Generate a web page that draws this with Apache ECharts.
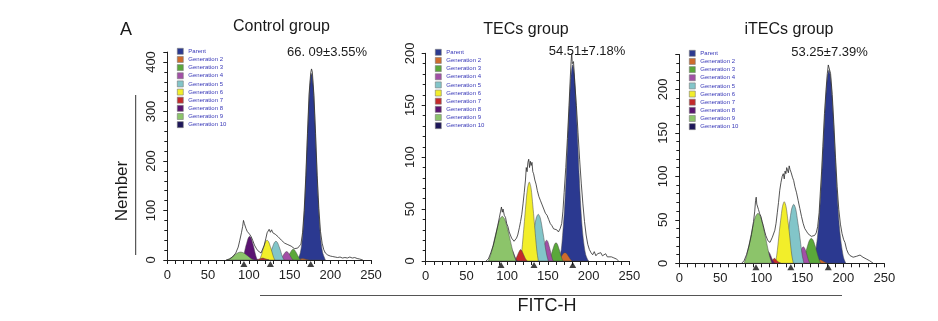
<!DOCTYPE html>
<html>
<head>
<meta charset="utf-8">
<title>CFSE proliferation</title>
<script src="https://cdn.jsdelivr.net/npm/echarts/dist/echarts.min.js"></script>
<style>
  html, body { margin: 0; padding: 0; background: #ffffff; }
  #chart { width: 938px; height: 321px; }
</style>
</head>
<body>
<div id="chart"></div>
<script>
// ---- labels ----
const panelTitles = ['Control group', 'TECs group', 'iTECs group'];
const panelRates = ['66. 09±3.55%', '54.51±7.18%', '53.25±7.39%'];
const legendNames = ['Parent', 'Generation 2', 'Generation 3', 'Generation 4', 'Generation 5',
  'Generation 6', 'Generation 7', 'Generation 8', 'Generation 9', 'Generation 10'];

// ---- Control group: fitted generation peaks [FITC-H, count] ----
const controlParent = [[160,0],[161,4],[163,13],[165,32],[167,68],[169,126],[171,203],[173,286],[175,352],[177,377],[179,352],[181,286],[183,203],[185,126],[187,68],[189,32],[191,13],[193,4],[194,0]];
const controlGen2 = [[158,0],[162,1.5],[166,3],[170,1.5],[174,0]];
const controlGen3 = [[145.6,0],[147,2.6],[148.3,6.5],[149.7,11.2],[151,15.1],[152.8,19.9],[154.6,21.6],[156.4,19.9],[158.2,15.1],[159.5,11.2],[160.9,6.5],[162.2,2.6],[163.6,0]];
const controlGen4 = [[138.4,0],[139.6,2],[140.8,5.1],[142,8.8],[143.2,11.9],[144.8,15.6],[146.4,17],[148,15.6],[149.6,11.9],[150.8,8.8],[152,5.1],[153.2,2],[154.4,0]];
const controlGen5 = [[123.3,0],[124.8,4.6],[126.3,11.4],[127.8,19.8],[129.3,26.6],[131.3,35],[133.3,38],[135.3,35],[137.3,26.6],[138.8,19.8],[140.3,11.4],[141.8,4.6],[143.3,0]];
const controlGen6 = [[113,0],[114.4,4.8],[115.9,12],[117.3,20.8],[118.7,28],[120.6,36.8],[122.5,40],[124.4,36.8],[126.3,28],[127.7,20.8],[129.2,12],[130.6,4.8],[132,0]];
const controlGen7 = [[109,0],[113,2],[117,4],[121,2],[125,0]];
const controlGen8 = [[91.5,0],[93,5.8],[94.5,14.4],[95.9,25],[97.4,33.6],[99.3,44.2],[101.1,48],[102.9,44.2],[104.8,33.6],[106.3,25],[107.7,14.4],[109.2,5.8],[110.7,0]];
const controlGen9 = [[74,0],[76.4,1.9],[78.8,4.8],[81.2,8.3],[83.6,11.2],[86.8,14.7],[90,16],[93.2,14.7],[96.4,11.2],[98.8,8.3],[101.2,4.8],[103.6,1.9],[106,0]];
const controlGen10 = [];
// measured histogram
const controlHist = [[72,0],[76,2],[80,6],[84,14],[87,26],[89,40],[91,55],[92.5,68],[93.5,80],[94.5,74],[95.5,78],[96.5,64],[98,58],[99.5,60],[101,52],[103,47],[105,39],[107,30],[109,24],[111,19],[113,16],[115,14],[117,18],[119,30],[121,44],[122.5,55],[124,58],[125,62],[126.5,56],[128,61],[129.5,55],[131,58],[132.5,52],[134,53],[136,47],[138,46],[140,40],[142,37],[144,34],[146,30],[148,31],[150,27],[152,28],[154,24],[156,23],[158,21],[160,24],[162,27],[164,32],[166,55],[168,100],[170,170],[172,255],[174,335],[176,378],[177,386],[178,380],[180,332],[182,255],[184,170],[186,104],[188,58],[190,34],[192,21],[194,14],[197,10],[200,8],[203,7],[206,6],[209,5],[212,6],[215,4],[218,5],[221,4],[224,6],[227,4],[230,5],[233,3],[236,2],[240,0]];
const controlMarkers = [94, 126.5, 176];

// ---- TECs group ----
const tecsParent = [[162.5,0],[164.5,4],[166.5,11],[168.5,29],[170.5,51],[172.5,82],[174.5,118],[176.5,153],[178.5,179],[180.5,189],[182.5,179],[184.5,153],[186.5,118],[188.5,82],[190.5,51],[192.5,29],[194.5,15],[196.5,6],[198.5,2],[200,0]];
const tecsGen2 = [[162.5,0],[165,2.5],[167.5,5.5],[169.3,7.4],[171,8],[172.7,7.4],[174.5,5.5],[177,2.5],[179.5,0]];
const tecsGen3 = [[151.4,0],[152.7,2.1],[154,5.3],[155.3,9.2],[156.6,12.3],[158.3,16.2],[160,17.6],[161.7,16.2],[163.4,12.3],[164.7,9.2],[166,5.3],[167.3,2.1],[168.6,0]];
const tecsGen4 = [[140.5,0],[141.7,2.4],[142.9,6],[144.1,10.4],[145.3,14],[146.9,18.4],[148.5,20],[150.1,18.4],[151.7,14],[152.9,10.4],[154.1,6],[155.3,2.4],[156.5,0]];
const tecsGen5 = [[125.9,0],[127.7,5.4],[129.6,13.5],[131.4,22.5],[133.3,31.5],[135.7,41.4],[138.2,45],[140.7,41.4],[143.1,31.5],[145,22.5],[146.8,13.5],[148.7,5.4],[150.5,0]];
const tecsGen6 = [[116.2,0],[117.9,9.1],[119.5,22.8],[121.2,38],[122.8,53],[125,70],[127.2,76],[129.4,70],[131.6,53],[133.3,38],[134.9,22.8],[136.6,9.1],[138.2,0]];
const tecsGen7 = [[108.6,0],[110.9,2.5],[113.2,6.5],[115.3,10],[116.6,11],[117.9,10],[120,6.5],[122.3,2.5],[124.6,0]];
const tecsGen8 = [[98.5,0],[100.5,2.5],[102.5,6.5],[104.2,9.8],[105.5,10.6],[106.8,9.8],[108.5,6.5],[110.5,2.5],[112.5,0]];
const tecsGen9 = [[77,0],[79.5,5.2],[82.1,12.9],[84.6,21.5],[87.2,30],[90.6,39.6],[94,43],[97.4,39.6],[100.8,30],[103.4,21.5],[105.9,12.9],[108.5,5.2],[111,0]];
const tecsGen10 = [];
const tecsHist = [[74,0],[77,2],[80,8],[83,15],[86,25],[88.5,34],[90.5,42],[92,48],[93,52],[94,47],[95,50],[96.5,44],[98,42],[99.5,36],[101,33],[102.5,28],[104,25],[105.5,22],[107,23],[108.5,19],[110,20],[111.5,22],[113,25],[115,32],[116.5,38],[118,45],[119.5,55],[121,66],[122.5,78],[123.5,90],[124.5,86],[125.5,95],[126.5,98],[127.5,90],[128.5,96],[129.5,92],[130.5,95],[131.5,86],[132.5,84],[134,78],[135.5,74],[137,68],[139,62],[141,58],[143,54],[145,50],[147,46],[149,44],[151,40],[153,36],[155,34],[157,31],[159,30],[161,30],[163,28],[165,31],[167,36],[168.5,48],[170,66],[172,90],[174,118],[176,150],[177.5,176],[178.5,192],[179.3,200],[180,190],[181.5,192],[183,172],[185,150],[187,124],[189,98],[191,75],[193,55],[195,38],[197,25],[199,16],[201,11],[203,8],[205,6],[207,9],[209,5],[211,7],[213,6],[215,8],[217,5],[219,6],[221,7],[223,4],[225,5],[228,4],[231,3],[234,2],[237,0]];
const tecsMarkers = [92.5, 133, 180.5];

// ---- iTECs group ----
const itecsParent = [[162,0],[164.5,6],[166.5,16],[168.5,30],[170.5,51],[172.5,80],[174.5,116],[176.5,154],[178.5,188],[180.5,213],[182.5,222],[184.5,213],[186.5,188],[188.5,154],[190.5,116],[192.5,80],[194.5,51],[196.5,30],[198.5,16],[200.5,6],[203,0]];
const itecsGen2 = [[164,0],[168,2],[172,4],[176,2],[180,0]];
const itecsGen3 = [[149.5,0],[151.2,3.4],[153,8.6],[154.7,14.4],[156.4,20.1],[158.7,26.4],[161,28.7],[163.3,26.4],[165.6,20.1],[167.3,14.4],[169,8.6],[170.8,3.4],[172.5,0]];
const itecsGen4 = [[143.2,0],[144.4,2.3],[145.6,5.7],[146.8,9.9],[148,13.3],[149.6,17.5],[151.2,19],[152.8,17.5],[154.4,13.3],[155.6,9.9],[156.8,5.7],[158,2.3],[159.2,0]];
const itecsGen5 = [[127,0],[128.9,8.1],[130.75,21.2],[132.6,35.3],[134.5,47.5],[137,62.4],[139.5,67.8],[142,62.4],[144.5,47.5],[146.4,35.3],[148.25,21.2],[150.1,8.1],[152,0]];
const itecsGen6 = [[117,0],[118.7,8.5],[120.3,21.2],[122,36.8],[123.6,49.6],[125.8,65.1],[128,70.8],[130.2,65.1],[132.4,49.6],[134,36.8],[135.7,21.2],[137.3,8.5],[139,0]];
const itecsGen7 = [[108,0],[111,1.5],[113.5,3.5],[116,5.7],[118.5,3.5],[121,1.5],[124,0]];
const itecsGen8 = [[100.5,0],[102.5,2.5],[104.5,6.5],[106.5,11],[108.5,13.4],[110.5,11],[112.5,6.5],[114.5,2.5],[116.5,0]];
const itecsGen9 = [[79,0],[81.6,6.9],[84.1,17.3],[86.7,28.8],[89.2,40.3],[92.6,52.9],[96,57.5],[99.4,52.9],[102.8,40.3],[105.4,28.8],[107.9,17.3],[110.5,6.9],[113,0]];
const itecsGen10 = [];
const itecsHist = [[76,0],[79,3],[82,10],[85,20],[88,33],[90.5,48],[92,60],[93,72],[93.8,76],[94.5,68],[95.5,66],[96.5,62],[98,57],[99.5,54],[101,48],[102.5,43],[104,37],[105.5,32],[106.5,30],[108,26],[109.5,28],[110.6,24],[112,26],[113.5,30],[115,32],[116.5,38],[118,46],[119.5,58],[121,70],[122.5,84],[124,93],[125.5,100],[126.8,103],[128,97],[129,106],[130,103],[131,110],[132.2,112],[133,104],[134,112],[135,108],[136.5,104],[138,99],[139.5,95],[141,88],[143,81],[145,72],[147,63],[149,54],[151,46],[153,40],[155,37],[157,34],[159,33],[161,31],[163,31],[165,32],[167,35],[168.7,42],[170.5,58],[172,82],[173.5,105],[175,134],[177,172],[179,200],[180.5,218],[181.7,228],[183,226],[184.5,218],[186.5,194],[188.5,160],[190.5,122],[192.5,88],[194.5,62],[196.5,45],[198.5,34],[200.5,27],[202,24],[204,16],[206,11.5],[208,9],[210,8],[212,7],[214,7],[216,8],[218,9],[220.4,9.5],[222,8],[224,7],[226,6],[228,5],[230,5],[232,3],[234,2],[236.6,0]];
const itecsMarkers = [93.5, 136, 181.7];

// ---- styling ----
const FONT = '"Liberation Sans", Arial, Helvetica, sans-serif';
const genColors = ['#2b3990', '#cf6b2c', '#5aa83a', '#a24fa6', '#82c5c9', '#f2ee2a', '#c42a2a', '#5b1472', '#8cc46a', '#1d1659'];
const axisColor = '#1e1e1e';

const panels = [
  { peaks: [controlParent, controlGen2, controlGen3, controlGen4, controlGen5, controlGen6, controlGen7, controlGen8, controlGen9, controlGen10],
    hist: controlHist, markers: controlMarkers, yMax: 420, yStep: 100,
    grid: { left: 167.3, top: 52.1, width: 203.7, height: 207.9 },
    legendPos: { left: 177, top: 48 },
    title: [281.5, 27], rate: [327, 52.3] },
  { peaks: [tecsParent, tecsGen2, tecsGen3, tecsGen4, tecsGen5, tecsGen6, tecsGen7, tecsGen8, tecsGen9, tecsGen10],
    hist: tecsHist, markers: tecsMarkers, yMax: 200, yStep: 50,
    grid: { left: 425.7, top: 53.3, width: 203.6, height: 207.7 },
    legendPos: { left: 435, top: 49 },
    title: [526, 30], rate: [587, 51] },
  { peaks: [itecsParent, itecsGen2, itecsGen3, itecsGen4, itecsGen5, itecsGen6, itecsGen7, itecsGen8, itecsGen9, itecsGen10],
    hist: itecsHist, markers: itecsMarkers, yMax: 240, yStep: 50,
    grid: { left: 679.3, top: 54.5, width: 205, height: 208.8 },
    legendPos: { left: 689, top: 50 },
    title: [789, 30], rate: [829.5, 52.3] }
];

// One filled, smoothed polygon per generation peak, placed through the grid's axes.
function peakSeries(name, color, pts, idx) {
  return {
    type: 'custom',
    name: name,
    coordinateSystem: 'cartesian2d',
    xAxisIndex: idx,
    yAxisIndex: idx,
    clip: true,
    z: 3,
    itemStyle: { color: color },
    data: pts,
    silent: true,
    renderItem: function (params, api) {
      if (params.dataIndex !== 0 || pts.length < 3) return null;
      const points = pts.map(function (p) { return api.coord(p); });
      let minX = Infinity, minY = Infinity, maxX = -Infinity, maxY = -Infinity;
      points.forEach(function (q) {
        minX = Math.min(minX, q[0]); maxX = Math.max(maxX, q[0]);
        minY = Math.min(minY, q[1]); maxY = Math.max(maxY, q[1]);
      });
      return {
        type: 'polygon',
        shape: { points: points, smooth: 0.3, smoothConstraint: [[minX, minY], [maxX, maxY]] },
        style: { fill: color, stroke: '#4a4a4a', lineWidth: 0.5, blend: 'darken' }
      };
    }
  };
}

const grids = [], xAxes = [], yAxes = [], series = [], legends = [], graphics = [];

panels.forEach(function (p, i) {
  grids.push(p.grid);
  xAxes.push({
    type: 'value', gridIndex: i, min: 0, max: 250, interval: 50,
    axisLine: { show: true, onZero: false, lineStyle: { color: axisColor, width: 1 } },
    axisTick: { show: true, length: 4, lineStyle: { color: axisColor } },
    minorTick: { show: true, splitNumber: 5, length: 4, lineStyle: { color: axisColor } },
    axisLabel: { fontSize: 13, color: '#222', margin: 9, fontFamily: FONT },
    splitLine: { show: false }
  });
  yAxes.push({
    type: 'value', gridIndex: i, min: 0, max: p.yMax, interval: p.yStep,
    axisLine: { show: true, lineStyle: { color: axisColor, width: 1 } },
    axisTick: { show: true, length: 4, lineStyle: { color: axisColor } },
    minorTick: { show: true, splitNumber: 5, length: 3, lineStyle: { color: axisColor } },
    axisLabel: {
      rotate: 90, fontSize: 13, color: '#222', margin: 9, fontFamily: FONT,
      formatter: function (v) { return v % p.yStep === 0 ? String(v) : ''; }
    },
    splitLine: { show: false }
  });

  p.peaks.forEach(function (pts, g) {
    series.push(peakSeries(legendNames[g], genColors[g], pts, i));
  });

  series.push({
    type: 'line', name: 'histogram', xAxisIndex: i, yAxisIndex: i,
    data: p.hist, showSymbol: false, symbol: 'none', z: 4, silent: true,
    lineStyle: { color: '#2a2a2a', width: 0.8 }
  });

  series.push({
    type: 'scatter', name: 'gates', xAxisIndex: i, yAxisIndex: i,
    data: p.markers.map(function (x) { return [x, 0]; }),
    symbol: 'triangle', symbolSize: [7, 6], symbolOffset: [0, 4],
    itemStyle: { color: '#111' }, z: 6, clip: false, silent: true
  });

  legends.push({
    data: legendNames, orient: 'vertical', left: p.legendPos.left, top: p.legendPos.top,
    itemWidth: 6, itemHeight: 6, itemGap: 1.55, icon: 'rect', selectedMode: false,
    padding: 0,
    itemStyle: { borderColor: '#7a7a7a', borderWidth: 0.6 },
    textStyle: { fontSize: 6, color: '#3838b8', fontFamily: FONT }
  });

  graphics.push({
    type: 'text', x: p.title[0], y: p.title[1],
    style: { text: panelTitles[i], font: '16px ' + FONT, fill: '#1a1a1a', textAlign: 'center', textVerticalAlign: 'middle' }
  });
  graphics.push({
    type: 'text', x: p.rate[0], y: p.rate[1],
    style: { text: panelRates[i], font: '13px ' + FONT, fill: '#1a1a1a', textAlign: 'center', textVerticalAlign: 'middle' }
  });
});

graphics.push(
  { type: 'text', x: 126, y: 30.5, style: { text: 'A', font: '18px ' + FONT, fill: '#1a1a1a', textAlign: 'center', textVerticalAlign: 'middle' } },
  { type: 'text', x: 122, y: 191, rotation: Math.PI / 2, style: { text: 'Nember', font: '17px ' + FONT, fill: '#1a1a1a', textAlign: 'center', textVerticalAlign: 'middle' } },
  { type: 'line', shape: { x1: 135.7, y1: 95, x2: 135.7, y2: 255 }, style: { stroke: '#333', lineWidth: 1 } },
  { type: 'line', shape: { x1: 260, y1: 295.5, x2: 842, y2: 295.5 }, style: { stroke: '#555', lineWidth: 1 } },
  { type: 'text', x: 547, y: 306, style: { text: 'FITC-H', font: '18px ' + FONT, fill: '#1a1a1a', textAlign: 'center', textVerticalAlign: 'middle' } }
);

const chart = echarts.init(document.getElementById('chart'), null, { renderer: 'canvas' });
chart.setOption({
  backgroundColor: '#ffffff',
  animation: false,
  grid: grids,
  xAxis: xAxes,
  yAxis: yAxes,
  legend: legends,
  series: series,
  graphic: graphics
});
</script>
</body>
</html>
